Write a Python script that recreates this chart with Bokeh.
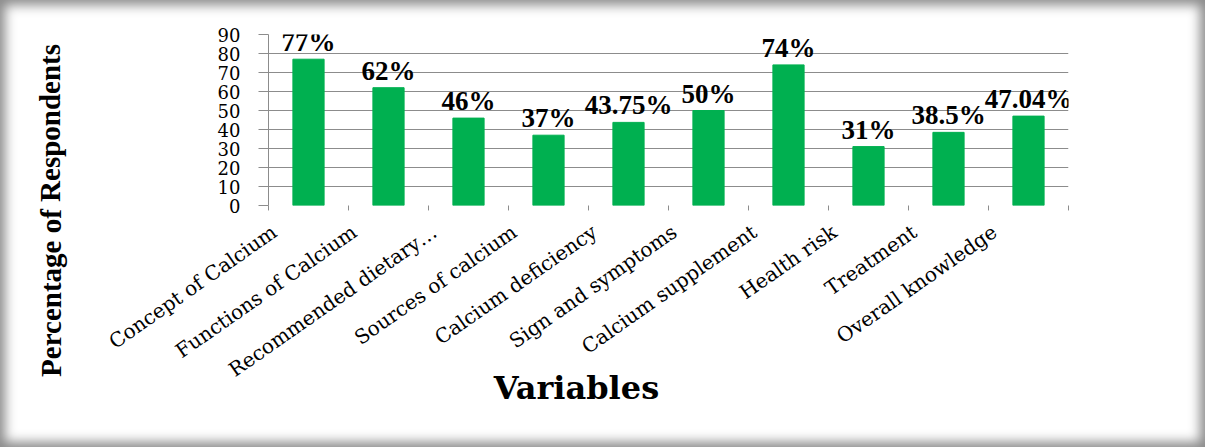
from bokeh.plotting import figure
from bokeh.models import ColumnDataSource, LabelSet, FactorRange, Range1d, FixedTicker
from bokeh.core.properties import value
from bokeh.embed import file_html
from bokeh.resources import INLINE

categories = ["Concept of Calcium", "Functions of Calcium", "Recommended dietary\u2026",
              "Sources of calcium", "Calcium deficiency", "Sign and symptoms",
              "Calcium supplement", "Health risk", "Treatment", "Overall knowledge"]
values = [77, 62, 46, 37, 43.75, 50, 74, 31, 38.5, 47.04]
value_labels = ["77%", "62%", "46%", "37%", "43.75%", "50%", "74%", "31%", "38.5%", "47.04%"]
y_ticks = [0, 10, 20, 30, 40, 50, 60, 70, 80, 90]
x_title = "Variables"
y_title = "Percentage of Respondents"

GREEN = "#00B050"
GRID = "#8c8c8c"

p = figure(width=1205, height=447, output_backend="svg", toolbar_location=None,
           x_range=FactorRange(*categories, range_padding=0), y_range=Range1d(0, 90),
           min_border_left=268, min_border_right=137, min_border_top=34, min_border_bottom=242)
p.border_fill_color = None
p.background_fill_color = "white"
p.outline_line_color = None
p.styles = {"box-shadow": "inset 0 0 12px 5px #8a8a8a"}

src = ColumnDataSource(dict(cat=categories, val=values, lab=value_labels))
p.vbar(x="cat", top="val", width=0.39, source=src, fill_color=GREEN, line_color=GREEN)

# axes
p.xaxis.visible = False
p.xgrid.visible = False
p.ygrid.ticker = FixedTicker(ticks=y_ticks)
p.ygrid.grid_line_color = GRID
p.ygrid.grid_line_width = 1
yax = p.yaxis[0]
yax.ticker = FixedTicker(ticks=y_ticks)
yax.axis_line_color = GRID
yax.major_tick_line_color = GRID
yax.major_tick_in = 0
yax.major_tick_out = 10
yax.minor_tick_line_color = None
yax.major_label_standoff = 18
yax.major_label_text_font = "DejaVu Serif"
yax.major_label_text_font_size = "18px"
yax.major_label_text_color = "black"

# category boundary ticks
n = len(categories)
bx = list(range(n + 1))
p.segment(x0=bx, y0=[0] * (n + 1), x1=bx, y1=[-2.6] * (n + 1),
          line_color=GRID, line_width=1, level="annotation")

# value labels
p.add_layout(LabelSet(x="cat", y="val", text="lab", source=src, y_offset=8,
                      text_align="center", text_baseline="alphabetic",
                      text_font="DejaVu Serif", text_font_style="bold",
                      text_font_size="27px", text_color="black"))

# category labels
p.text(x="cat", y=0, text="cat", source=src, x_offset=-34, y_offset=24,
       angle=0.61, text_align="right", text_baseline="middle",
       text_font=value("DejaVu Serif"), text_font_size="20px", text_color="black",
       level="annotation")

# axis titles
p.text(x=[-2.725], y=[-2.6], text=[y_title], angle=1.5708,
       text_align="center", text_baseline="middle",
       text_font=value("Liberation Serif"), text_font_style="bold",
       text_font_size="29px", text_color="black", level="annotation")
p.text(x=[3.85], y=[-96.3], text=[x_title],
       text_align="center", text_baseline="middle",
       text_font=value("DejaVu Serif"), text_font_style="bold",
       text_font_size="32px", text_color="black", level="annotation")

open("out.html", "w").write(file_html(p, INLINE))
